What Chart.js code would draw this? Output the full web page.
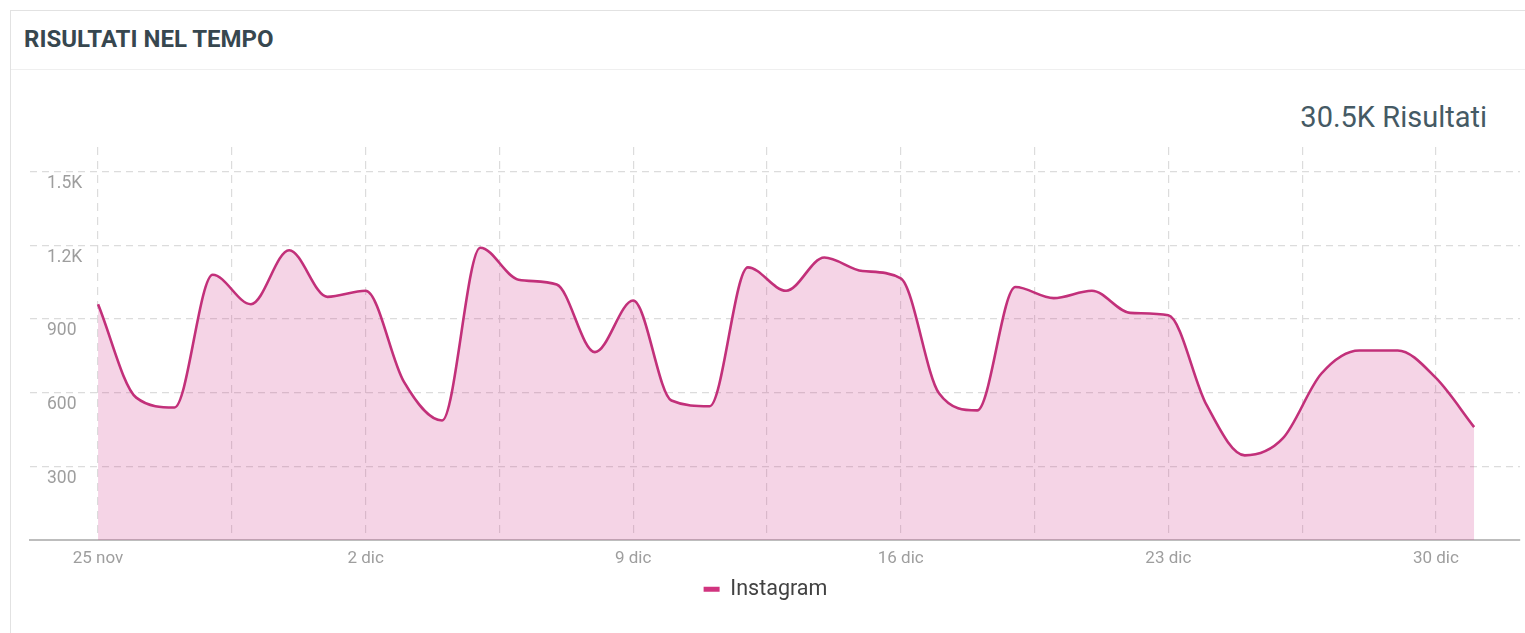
<!DOCTYPE html>
<html>
<head>
<meta charset="utf-8">
<script src="https://cdn.jsdelivr.net/npm/chart.js@4/dist/chart.umd.min.js"></script>
<style>
  body { margin: 0; background: #fff; font-family: Roboto, sans-serif; }
  .card { position: absolute; left: 10px; top: 10px; width: 1530px; height: 640px; border: 1px solid #e2e2e2; box-sizing: border-box; }
  .card-head { height: 59px; border-bottom: 1px solid #efefef; box-sizing: border-box; padding-left: 13px; line-height: 56px; font-weight: bold; font-size: 24px; color: #37474f; }
  .total { position: absolute; right: 38px; top: 100px; font-size: 29px; color: #455a64; }
  .chart-box { position: absolute; left: 11px; top: 70px; width: 1514px; height: 563px; }
</style>
</head>
<body>
<div class="card">
  <div class="card-head">RISULTATI NEL TEMPO</div>
</div>
<div class="total">30.5K Risultati</div>
<div class="chart-box"><canvas id="results-chart"></canvas></div>

<script>
// One entry per day, 25 nov - 31 dic
const days = [
    '25 nov', '26 nov', '27 nov', '28 nov', '29 nov', '30 nov', '1 dic',
    '2 dic', '3 dic', '4 dic', '5 dic', '6 dic', '7 dic', '8 dic',
    '9 dic', '10 dic', '11 dic', '12 dic', '13 dic', '14 dic', '15 dic',
    '16 dic', '17 dic', '18 dic', '19 dic', '20 dic', '21 dic', '22 dic',
    '23 dic', '24 dic', '25 dic', '26 dic', '27 dic', '28 dic', '29 dic',
    '30 dic', '31 dic'
];
const instagram = [
    960, 580, 540, 1080, 960, 1180, 990,
    1015, 645, 487, 1190, 1060, 1040, 765,
    975, 568, 545, 1110, 1015, 1150, 1095,
    1065, 598, 528, 1030, 985, 1015, 925,
    915, 550, 345, 415, 677, 772, 772,
    660, 460
];
// y ticks shown on the axis
const yTicks = [300, 600, 900, 1200, 1500];

const lineColor = '#c2307a';
const tickColor = '#9e9e9e';
const gridColor = '#dcdcdc';

const ctx = document.getElementById('results-chart').getContext('2d');
const resultsChart = new Chart(ctx, {
    type: 'line',
    data: {
        datasets: [{
            label: 'Instagram',
            data: instagram.map((v, i) => ({ x: i, y: v })),
            borderColor: lineColor,
            backgroundColor: 'rgba(210, 60, 140, 0.22)',
            borderWidth: 2.6,
            fill: 'origin',
            cubicInterpolationMode: 'monotone',
            pointRadius: 0
        }]
    },
    options: {
        responsive: true,
        maintainAspectRatio: false,
        animation: false,
        layout: {
            padding: { left: 0, right: 5, top: 77, bottom: 23 }
        },
        scales: {
            x: {
                type: 'linear',
                min: -1.78,
                max: 37.2,
                // gridlines every half week, labels once a week
                afterBuildTicks: axis => {
                    const t = [];
                    for (let v = 0; v <= 35; v += 3.5) t.push({ value: v });
                    axis.ticks = t;
                },
                ticks: {
                    autoSkip: false,
                    maxRotation: 0,
                    padding: 8,
                    color: tickColor,
                    font: { family: 'Roboto', size: 17 },
                    callback: v => (Number.isInteger(v) && v % 7 === 0) ? days[v] : ''
                },
                grid: { color: gridColor, lineWidth: 1.2, drawTicks: false },
                border: { display: true, color: '#bdbdbd', width: 2, dash: [8, 6] }
            },
            y: {
                min: 0,
                max: 1600,
                afterBuildTicks: axis => {
                    axis.ticks = yTicks.map(v => ({ value: v }));
                },
                // labels sit inside the plot, so keep the axis narrow
                afterFit: axis => { axis.width = 19; },
                ticks: {
                    mirror: true,
                    padding: 17,
                    labelOffset: 12,
                    color: tickColor,
                    font: { family: 'Roboto', size: 17.5 },
                    callback: v => v >= 1000 ? (v / 1000) + 'K' : v
                },
                grid: { color: gridColor, lineWidth: 1.2, drawTicks: false },
                border: { display: false, dash: [7, 5] }
            }
        },
        plugins: {
            legend: {
                position: 'bottom',
                labels: {
                    boxWidth: 16,
                    boxHeight: 5,
                    padding: 2,
                    color: '#424242',
                    font: { family: 'Roboto', size: 21.5 },
                    generateLabels: chart => Chart.defaults.plugins.legend.labels.generateLabels(chart)
                        .map(l => ({ ...l, fillStyle: '#d1347f', strokeStyle: '#d1347f', lineWidth: 0 }))
                }
            },
            tooltip: { enabled: false }
        }
    }
});
</script>
</body>
</html>
